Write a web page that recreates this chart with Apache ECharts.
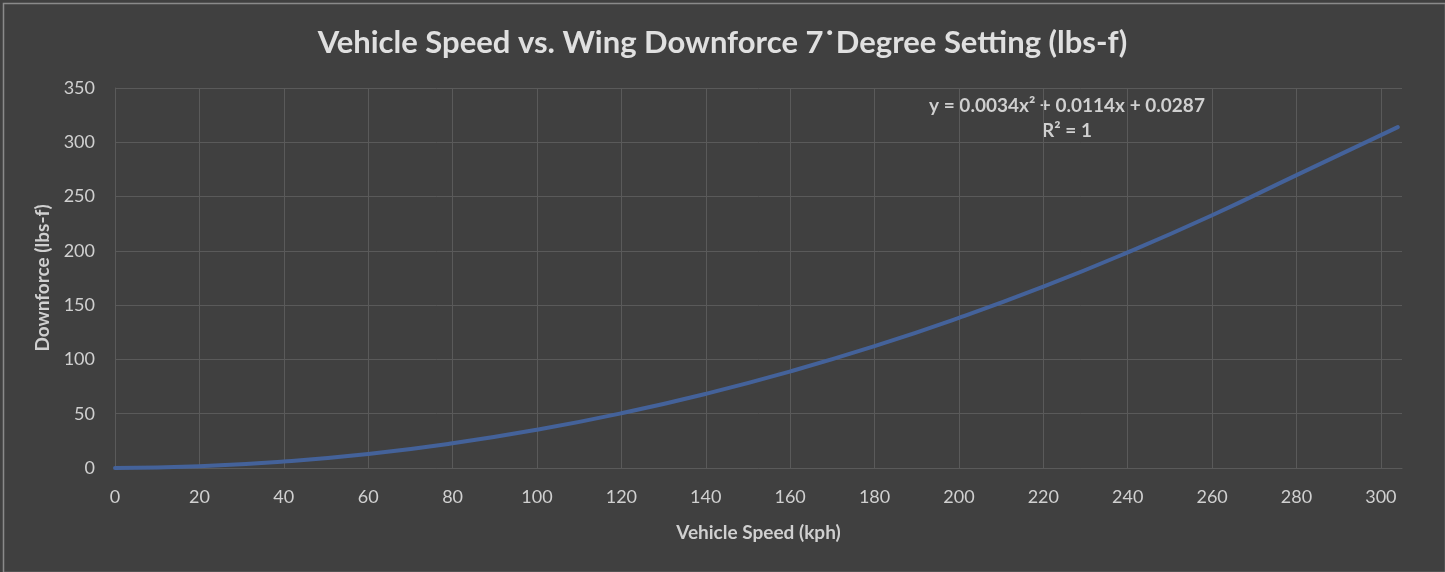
<!DOCTYPE html>
<html><head><meta charset="utf-8">
<script src="https://cdn.jsdelivr.net/npm/echarts@6/dist/echarts.min.js"></script>
<style>html,body{margin:0;padding:0;background:#404040;}#c{width:1445px;height:572px;}</style>
</head><body><div id="c"></div>
<script>
const speeds = [0, 20, 40, 60, 80, 100, 120, 140, 160, 180, 200, 220, 240, 260, 280, 304];
const downforce = [0, 1.6, 6, 12.9, 22.7, 35.2, 50.4, 68.3, 88.9, 112.2, 138.3, 167, 198.6, 232.8, 269.8, 314];
const titleText = 'Vehicle Speed vs. Wing Downforce 7\u02D9Degree Setting (lbs-f)';
const trendLines = ['y = 0.0034x\u00B2 + 0.0114x + 0.0287', 'R\u00B2 = 1'];

const chart = echarts.init(document.getElementById('c'));
const font = 'Lato, "Open Sans", sans-serif';
chart.setOption({
  backgroundColor: '#404040',
  animation: false,
  title: {
    text: titleText, left: 'center', top: 22,
    textStyle: { color: '#e0e0e0', fontSize: 31, fontWeight: 'bold', fontFamily: font }
  },
  grid: { left: 115, right: 43, top: 88, bottom: 104, containLabel: false },
  xAxis: {
    type: 'value', min: 0, max: 305, interval: 20,
    name: 'Vehicle Speed (kph)', nameLocation: 'middle', nameGap: 55,
    nameTextStyle: { color: '#d0d0d0', fontSize: 19, fontWeight: 'bold', fontFamily: font },
    axisLine: { show: true, lineStyle: { color: '#5a5a5a', width: 1 } },
    axisTick: { show: false },
    axisLabel: { color: '#d0d0d0', fontSize: 18, fontFamily: font, margin: 20,
      formatter: v => (v % 20 === 0 ? String(v) : '') },
    splitLine: { show: true, showMaxLine: false, lineStyle: { color: '#5a5a5a', width: 1 } }
  },
  yAxis: {
    type: 'value', min: 0, max: 350, interval: 50,
    name: 'Downforce (lbs-f)', nameLocation: 'middle', nameGap: 62, nameRotate: 90,
    nameTextStyle: { color: '#d0d0d0', fontSize: 19, fontWeight: 'bold', fontFamily: font },
    axisLine: { show: true, lineStyle: { color: '#5a5a5a', width: 1 } },
    axisTick: { show: false },
    axisLabel: { color: '#d0d0d0', fontSize: 18, fontFamily: font, margin: 20 },
    splitLine: { show: true, lineStyle: { color: '#5a5a5a', width: 1 } }
  },
  series: [{
    type: 'line', smooth: true, showSymbol: false,
    data: speeds.map((s, i) => [s, downforce[i]]),
    lineStyle: { color: '#44629a', width: 4, cap: 'round' },
    z: 5
  }],
  graphic: [
    { type: 'rect', left: 1, top: 1, shape: { width: 1442, height: 569 },
      style: { fill: 'none', stroke: '#8a8a8a', lineWidth: 1.5 }, silent: true },
    { type: 'text', x: 1067, y: 106, style: { text: trendLines[0], fill: '#d0d0d0',
      font: 'bold 19px ' + font, align: 'center', verticalAlign: 'middle' } },
    { type: 'text', x: 1067, y: 131, style: { text: trendLines[1], fill: '#d0d0d0',
      font: 'bold 19px ' + font, align: 'center', verticalAlign: 'middle' } }
  ]
});
</script></body></html>
